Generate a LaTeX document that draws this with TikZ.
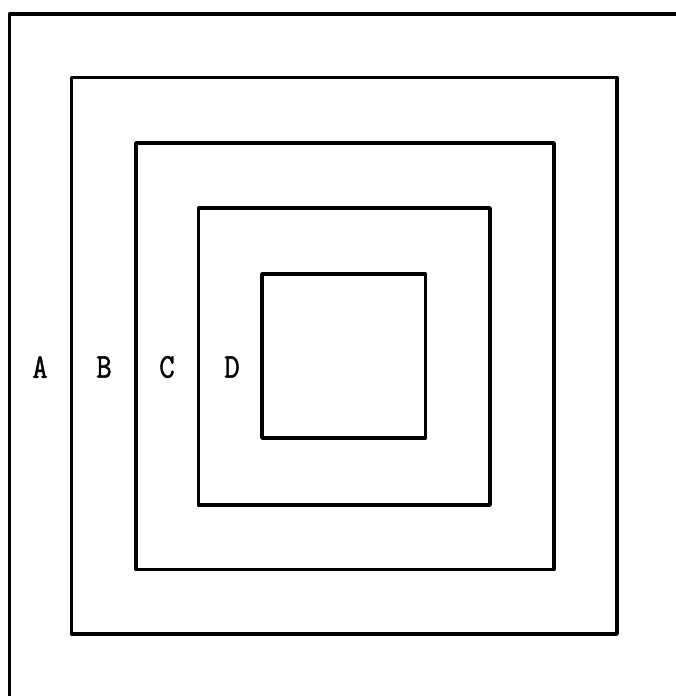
\documentclass[tikz,border=0pt]{standalone}
\usepackage{fontspec}
\newfontfamily\lblfont[FakeBold=1.5]{Latin Modern Mono}
\begin{document}
\begin{tikzpicture}[x=1pt,y=-1pt,
  frame/.style={line width=3.6pt,line join=round,line cap=round},
  lbl/.style={font=\lblfont\fontsize{30}{32}\selectfont,inner sep=0pt,yscale=1.15}]
\useasboundingbox (0,0) rectangle (675,696);
\draw[frame] (676,14) -- (9.5,14) -- (9.5,697);
\draw[frame] (71.5,77.5) rectangle (617,634);
\draw[frame] (136,143) rectangle (554,569.5);
\draw[frame] (198.5,208) rectangle (490,505);
\draw[frame] (262,274) rectangle (425.5,438);
\node[lbl,transform shape] (A) at (40,367) {A};
\node[lbl,transform shape] (B) at (104,367) {B};
\node[lbl,transform shape] (C) at (167,367) {C};
\node[lbl,transform shape] (D) at (232,367) {D};
\end{tikzpicture}
\end{document}
